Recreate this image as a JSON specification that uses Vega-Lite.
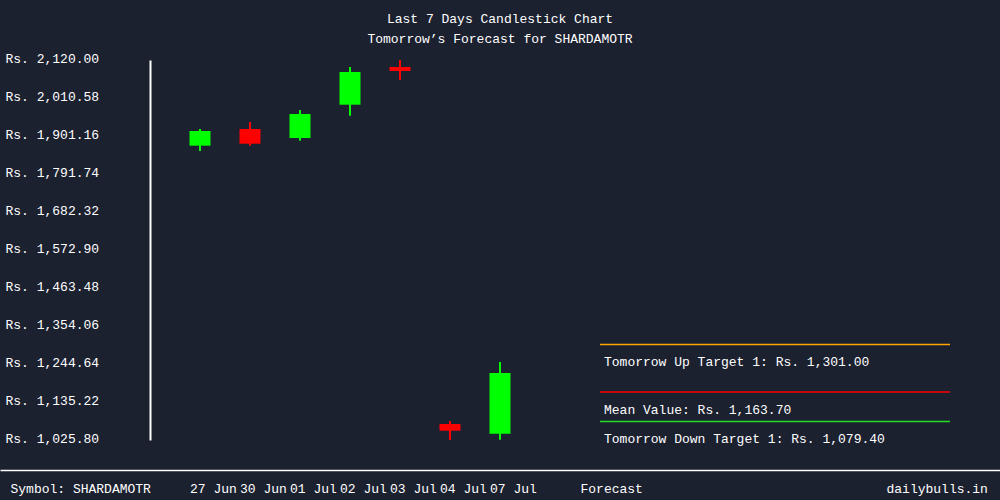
{
  "$schema": "https://vega.github.io/schema/vega-lite/v6.json",
  "width": 1000,
  "height": 380,
  "autosize": {"type": "none"},
  "padding": {"left": 0, "right": 0, "top": 60, "bottom": 60},
  "background": "#1c2130",
  "config": {
    "view": {"stroke": null},
    "font": "Liberation Mono",
    "scale": {"continuousPadding": 0},
    "axisX": {
      "offset": 30,
      "domainColor": "#ffffff",
      "domainWidth": 1.5,
      "ticks": false,
      "tickSize": 0,
      "grid": false,
      "labelAlign": "left",
      "labelOffset": -10.5,
      "labelBaseline": "alphabetic",
      "labelPadding": 22,
      "labelColor": "#ffffff",
      "labelFont": "Liberation Mono",
      "labelFontSize": 13,
      "labelFlush": false,
      "labelOverlap": false,
      "labelBound": false,
      "title": null
    },
    "axisY": {
      "offset": -150,
      "domainColor": "#ffffff",
      "domainWidth": 2,
      "ticks": false,
      "tickSize": 0,
      "grid": false,
      "labelAlign": "left",
      "labelBaseline": "middle",
      "labelOffset": -2,
      "labelPadding": 145,
      "labelColor": "#ffffff",
      "labelFont": "Liberation Mono",
      "labelFontSize": 13,
      "labelFlush": false,
      "labelOverlap": false,
      "labelBound": false,
      "title": null
    }
  },
  "title": {
    "text": ["Last 7 Days Candlestick Chart", "Tomorrow’s Forecast for SHARDAMOTR"],
    "color": "#ffffff",
    "font": "Liberation Mono",
    "fontSize": 13,
    "fontWeight": "normal",
    "lineHeight": 20,
    "anchor": "middle",
    "offset": 6
  },
  "datasets": {
    "candles": [
      {"date": "27 Jun", "day": 0, "open": 1873.3, "high": 1921.4, "low": 1858.0, "close": 1915.6},
      {"date": "30 Jun", "day": 1, "open": 1921.4, "high": 1941.5, "low": 1873.3, "close": 1879.0},
      {"date": "01 Jul", "day": 2, "open": 1895.4, "high": 1976.1, "low": 1887.7, "close": 1964.5},
      {"date": "02 Jul", "day": 3, "open": 1991.3, "high": 2099.9, "low": 1959.7, "close": 2085.5},
      {"date": "03 Jul", "day": 4, "open": 2099.8, "high": 2120.0, "low": 2062.4, "close": 2088.3},
      {"date": "04 Jul", "day": 5, "open": 1071.9, "high": 1080.5, "low": 1025.8, "close": 1052.6},
      {"date": "07 Jul", "day": 6, "open": 1044.0, "high": 1250.5, "low": 1026.7, "close": 1218.8}
    ],
    "targets": [
      {"name": "Tomorrow Up Target 1", "value": 1301.00},
      {"name": "Mean Value", "value": 1163.70},
      {"name": "Tomorrow Down Target 1", "value": 1079.40}
    ]
  },
  "layer": [
    {
      "data": {"name": "candles"},
      "mark": {"type": "rule", "strokeWidth": 2},
      "encoding": {
        "x": {
          "field": "day",
          "type": "quantitative",
          "scale": {"domain": [-4, 16], "nice": false, "zero": false, "padding": 0},
          "axis": {
            "values": [-3.59, 0, 1, 2, 3, 4, 5, 6, 7.81, 13.93],
            "tickCount": 20,
            "labelExpr": "datum.value < -1 ? 'Symbol: SHARDAMOTR' : datum.value > 13 ? 'dailybulls.in' : datum.value > 7 ? 'Forecast' : ['27 Jun','30 Jun','01 Jul','02 Jul','03 Jul','04 Jul','07 Jul'][datum.value]",
            "labelOverlap": false
          }
        },
        "y": {
          "field": "low",
          "type": "quantitative",
          "scale": {"domain": [1025.8, 2120], "nice": false, "zero": false, "padding": 0},
          "axis": {
            "values": [1025.8, 1135.22, 1244.64, 1354.06, 1463.48, 1572.9, 1682.32, 1791.74, 1901.16, 2010.58, 2120],
            "tickCount": 20,
            "labelExpr": "'Rs. ' + format(datum.value, ',.2f')",
            "labelOverlap": false
          }
        },
        "y2": {"field": "high"},
        "color": {"condition": {"test": "datum.close > datum.open", "value": "#00ff00"}, "value": "#ff0000"}
      }
    },
    {
      "data": {"name": "candles"},
      "mark": {"type": "bar", "width": 21},
      "encoding": {
        "x": {"field": "day", "type": "quantitative"},
        "y": {"field": "open", "type": "quantitative"},
        "y2": {"field": "close"},
        "color": {"condition": {"test": "datum.close > datum.open", "value": "#00ff00"}, "value": "#ff0000"}
      }
    },
    {
      "data": {"name": "targets"},
      "mark": {"type": "rule", "strokeWidth": 1.5},
      "encoding": {
        "x": {"datum": 8},
        "x2": {"datum": 15},
        "y": {"field": "value", "type": "quantitative"},
        "color": {
          "field": "name",
          "type": "nominal",
          "scale": {"domain": ["Tomorrow Up Target 1", "Mean Value", "Tomorrow Down Target 1"], "range": ["#ffa500", "#ff0000", "#22dd22"]},
          "legend": null
        }
      }
    },
    {
      "data": {"name": "targets"},
      "transform": [{"calculate": "datum.name + ': Rs. ' + format(datum.value, ',.2f')", "as": "label"}],
      "mark": {"type": "text", "align": "left", "baseline": "middle", "dx": 4, "dy": 18, "color": "#ffffff", "fontSize": 13, "font": "Liberation Mono"},
      "encoding": {
        "x": {"datum": 8},
        "y": {"field": "value", "type": "quantitative"},
        "text": {"field": "label"}
      }
    }
  ]
}
